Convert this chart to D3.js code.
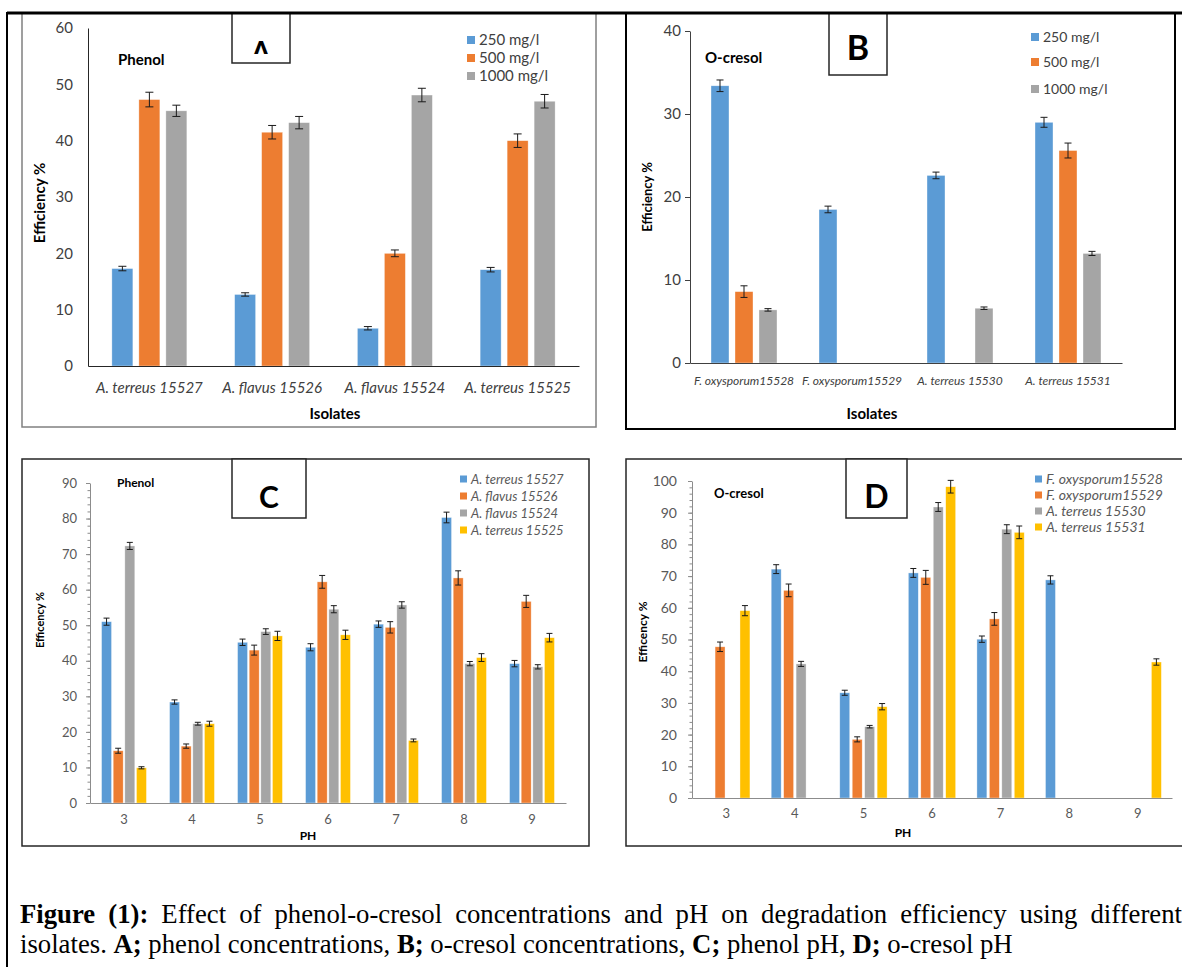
<!DOCTYPE html>
<html><head><meta charset="utf-8">
<script src="https://cdn.jsdelivr.net/npm/d3@7"></script>
<style>body{margin:0;background:#fff;} svg{display:block;font-family:Lato,"Open Sans",sans-serif;}
.cap text{font-family:"Liberation Serif","Times New Roman",Times,serif;}</style>
</head><body><svg id="c" width="1182" height="967"></svg>
<script>
// ---------------- data ----------------
const isolatesPhenol = ["A. terreus 15527", "A. flavus 15526", "A. flavus 15524", "A. terreus 15525"];
const isolatesCresol = ["F. oxysporum15528", "F. oxysporum15529", "A. terreus 15530", "A. terreus 15531"];
const concLabels = ["250 mg/l", "500 mg/l", "1000 mg/l"];

const phenolConc250 = [17.3, 12.7, 6.7, 17.1];
const phenolConc500 = [47.3, 41.5, 20.0, 40.0];
const phenolConc1000 = [45.3, 43.2, 48.1, 47.0];
const phenolConc250Err = [0.4, 0.3, 0.3, 0.4];
const phenolConc500Err = [1.3, 1.2, 0.6, 1.2];
const phenolConc1000Err = [1.0, 1.1, 1.2, 1.2];

const cresolConc250 = [33.4, 18.5, 22.6, 29.0];
const cresolConc500 = [8.6, 0, 0, 25.6];
const cresolConc1000 = [6.4, 0, 6.6, 13.2];
const cresolConc250Err = [0.7, 0.4, 0.4, 0.6];
const cresolConc500Err = [0.7, 0, 0, 0.9];
const cresolConc1000Err = [0.15, 0, 0.15, 0.25];

const phValues = ["3", "4", "5", "6", "7", "8", "9"];

const phenolPH15527 = [51.0, 28.4, 45.2, 43.8, 50.3, 80.3, 39.2];
const phenolPH15526 = [14.7, 16.0, 43.0, 62.2, 49.4, 63.3, 56.7];
const phenolPH15524 = [72.3, 22.3, 48.2, 54.5, 55.7, 39.2, 38.3];
const phenolPH15525 = [9.9, 22.3, 47.0, 47.3, 17.6, 40.9, 46.5];
const phenolPH15527Err = [1.0, 0.6, 0.9, 1.0, 0.9, 1.5, 0.9];
const phenolPH15526Err = [0.7, 0.6, 1.4, 1.8, 1.6, 2.0, 1.7];
const phenolPH15524Err = [1.0, 0.4, 0.8, 1.0, 0.9, 0.6, 0.6];
const phenolPH15525Err = [0.3, 0.7, 1.3, 1.3, 0.4, 1.1, 1.2];

const cresolPH15528 = [0, 72.2, 33.2, 71.0, 50.1, 68.8, 0];
const cresolPH15529 = [47.7, 65.5, 18.5, 69.6, 56.5, 0, 0];
const cresolPH15530 = [0, 42.3, 22.5, 91.8, 84.8, 0, 0];
const cresolPH15531 = [59.1, 0, 28.8, 98.2, 83.8, 0, 42.9];
const cresolPH15528Err = [0, 1.4, 0.8, 1.4, 1.0, 1.3, 0];
const cresolPH15529Err = [1.5, 2.0, 0.8, 2.2, 2.0, 0, 0];
const cresolPH15530Err = [0, 0.8, 0.4, 1.4, 1.4, 0, 0];
const cresolPH15531Err = [1.6, 0, 1.0, 2.0, 2.0, 0, 1.0];

const ticksA = [0, 10, 20, 30, 40, 50, 60];
const ticksB = [0, 10, 20, 30, 40];
const ticksC = [0, 10, 20, 30, 40, 50, 60, 70, 80, 90];
const ticksD = [0, 10, 20, 30, 40, 50, 60, 70, 80, 90, 100];

const seriesColors = ["#5B9BD5", "#ED7D31", "#A5A5A5", "#FFC000"];

// ---------------- drawing ----------------
const svg = d3.select("#c");
const FONT = "Lato, 'Open Sans', sans-serif";

function drawPanel(cfg) {
  const g = svg.append("g");
  g.append("rect").attr("x", cfg.frame[0]).attr("y", cfg.frame[1])
    .attr("width", cfg.frame[2]).attr("height", cfg.frame[3])
    .attr("fill", "#fff").attr("stroke", cfg.frameColor).attr("stroke-width", cfg.frameWidth);

  const y = d3.scaleLinear().domain([0, d3.max(cfg.yTicks)]).range([cfg.bottom, cfg.top]);
  const x0 = d3.scaleBand().domain(cfg.cats).range([cfg.left, cfg.right])
    .paddingInner(cfg.groupPad).paddingOuter(cfg.groupPad / 2);
  const x1 = d3.scaleBand().domain(d3.range(cfg.series.length)).range([0, x0.bandwidth()])
    .paddingInner(cfg.barPad);

  if (cfg.minorStep) {
    const minor = d3.range(0, d3.max(cfg.yTicks) + 0.001, cfg.minorStep);
    g.append("g").attr("transform", `translate(${cfg.left},0)`)
      .call(d3.axisLeft(y).tickValues(minor).tickSize(2.5).tickFormat(""))
      .call(s => s.select(".domain").remove())
      .call(s => s.selectAll("line").attr("stroke", cfg.axisColor));
  }
  const ya = g.append("g").attr("transform", `translate(${cfg.left},0)`)
    .call(d3.axisLeft(y).tickValues(cfg.yTicks).tickSize(cfg.yTickSize).tickSizeOuter(0).tickPadding(cfg.yTickPad));
  ya.select(".domain").attr("stroke", cfg.axisColor);
  ya.selectAll("line").attr("stroke", cfg.axisColor);
  ya.selectAll("text").attr("font-family", FONT).attr("font-size", cfg.yFont).attr("fill", cfg.textColor);

  cfg.series.forEach((vals, s) => {
    g.append("g").selectAll("rect").data(vals.map((v, i) => ({ v, c: cfg.cats[i] })).filter(d => d.v > 0))
      .join("rect")
      .attr("x", d => x0(d.c) + x1(s))
      .attr("y", d => y(d.v))
      .attr("width", x1.bandwidth())
      .attr("height", d => y(0) - y(d.v))
      .attr("fill", seriesColors[s])
      .attr("stroke", "#ffffff").attr("stroke-opacity", 0.6).attr("stroke-width", 0.6);
  });
  cfg.series.forEach((vals, s) => {
    const errs = cfg.errors[s];
    const eb = g.append("g").attr("stroke", "#1a1a1a").attr("stroke-width", 1);
    vals.forEach((v, i) => {
      if (v <= 0 || !errs[i]) return;
      const cx = x0(cfg.cats[i]) + x1(s) + x1.bandwidth() / 2;
      const y1 = y(v + errs[i]), y2 = y(v - errs[i]);
      eb.append("line").attr("x1", cx).attr("x2", cx).attr("y1", y1).attr("y2", y2);
      eb.append("line").attr("x1", cx - cfg.cap).attr("x2", cx + cfg.cap).attr("y1", y1).attr("y2", y1);
      eb.append("line").attr("x1", cx - cfg.cap).attr("x2", cx + cfg.cap).attr("y1", y2).attr("y2", y2);
    });
  });

  const xa = g.append("g").attr("transform", `translate(0,${cfg.bottom})`)
    .call(d3.axisBottom(x0).tickSize(0).tickSizeOuter(0).tickPadding(cfg.xTickPad));
  xa.select(".domain").attr("stroke", cfg.axisColor);
  xa.selectAll("text").attr("font-family", FONT).attr("font-size", cfg.xFont).attr("fill", cfg.textColor)
    .style("font-style", cfg.xItalic ? "italic" : "normal");

  g.append("text").attr("transform", `translate(${cfg.yTitlePos[0]},${cfg.yTitlePos[1]}) rotate(-90)`)
    .attr("text-anchor", "middle").attr("dy", "0.35em").attr("font-family", FONT).attr("font-weight", 700)
    .attr("font-size", cfg.yTitleFont).attr("fill", "#000").text(cfg.yTitle);
  g.append("text").attr("x", cfg.xTitlePos[0]).attr("y", cfg.xTitlePos[1]).attr("dy", "0.35em")
    .attr("text-anchor", "middle").attr("font-family", FONT).attr("font-weight", 700)
    .attr("font-size", cfg.xTitleFont).attr("fill", "#000").text(cfg.xTitle);

  g.append("text").attr("x", cfg.subPos[0]).attr("y", cfg.subPos[1]).attr("dy", "0.35em")
    .attr("font-family", FONT).attr("font-weight", 700).attr("font-size", cfg.subFont)
    .attr("fill", "#000").text(cfg.subtitle);

  cfg.legendNames.forEach((name, i) => {
    const ly = cfg.legendY[i];
    g.append("rect").attr("x", cfg.legendX).attr("y", ly - cfg.legendSq / 2)
      .attr("width", cfg.legendSq).attr("height", cfg.legendSq).attr("fill", seriesColors[i]);
    g.append("text").attr("x", cfg.legendX + cfg.legendSq + 4).attr("y", ly).attr("dy", "0.35em")
      .attr("font-family", FONT).attr("font-size", cfg.legendFont).attr("fill", cfg.textColor)
      .style("font-style", cfg.legendItalic ? "italic" : "normal").text(name);
  });

  const b = cfg.box;
  const clipId = "clip" + cfg.letter;
  svg.append("clipPath").attr("id", clipId).append("rect")
    .attr("x", b[0]).attr("y", b[1]).attr("width", b[2]).attr("height", cfg.letterClipH || b[3]);
  g.append("rect").attr("x", b[0]).attr("y", b[1]).attr("width", b[2]).attr("height", b[3])
    .attr("fill", "#fff").attr("stroke", "#262626").attr("stroke-width", 1.5);
  g.append("text").attr("x", b[0] + b[2] / 2).attr("y", cfg.letterBase).attr("text-anchor", "middle")
    .attr("font-family", FONT).attr("font-weight", 700).attr("font-size", cfg.letterFont)
    .attr("fill", "#000").attr("clip-path", `url(#${clipId})`).text(cfg.letter);
}

// Panel A
drawPanel({
  frame: [22, 13, 574, 414], frameColor: "#808080", frameWidth: 1.5,
  left: 88, right: 579, bottom: 366, top: 28,
  cats: isolatesPhenol, yTicks: ticksA,
  series: [phenolConc250, phenolConc500, phenolConc1000],
  errors: [phenolConc250Err, phenolConc500Err, phenolConc1000Err],
  groupPad: 0.389, barPad: 0.222, cap: 4,
  yTickSize: 0, yTickPad: 15, yFont: 15, axisColor: "#262626", textColor: "#404040",
  xTickPad: 16, xFont: 15, xItalic: true,
  yTitle: "Efficiency %", yTitlePos: [40, 203], yTitleFont: 15,
  xTitle: "Isolates", xTitlePos: [335, 414], xTitleFont: 15,
  subtitle: "Phenol", subPos: [118, 60], subFont: 15,
  legendNames: concLabels, legendX: 467, legendY: [40, 58, 76], legendSq: 8, legendFont: 15, legendItalic: false,
  box: [232, 13, 58, 50], letter: "A", letterBase: 62, letterFont: 28, letterClipH: 41
});

// Panel B
drawPanel({
  frame: [626, 13, 549, 416], frameColor: "#000", frameWidth: 2,
  left: 690, right: 1122, bottom: 363, top: 31,
  cats: isolatesCresol, yTicks: ticksB,
  series: [cresolConc250, cresolConc500, cresolConc1000],
  errors: [cresolConc250Err, cresolConc500Err, cresolConc1000Err],
  groupPad: 0.389, barPad: 0.25, cap: 3.5,
  yTickSize: 5, yTickPad: 4, yFont: 15, axisColor: "#404040", textColor: "#404040",
  xTickPad: 13, xFont: 12, xItalic: true,
  yTitle: "Efficiency %", yTitlePos: [647, 197], yTitleFont: 13,
  xTitle: "Isolates", xTitlePos: [872, 414], xTitleFont: 15,
  subtitle: "O-cresol", subPos: [705, 58], subFont: 15,
  legendNames: concLabels, legendX: 1031, legendY: [37, 62, 89], legendSq: 8, legendFont: 14, legendItalic: false,
  box: [829, 13, 58, 62], letter: "B", letterBase: 60, letterFont: 34
});

// Panel C
drawPanel({
  frame: [22, 459, 567, 387], frameColor: "#262626", frameWidth: 1.5,
  left: 90, right: 566, bottom: 803, top: 483,
  cats: phValues, yTicks: ticksC, minorStep: 2,
  series: [phenolPH15527, phenolPH15526, phenolPH15524, phenolPH15525],
  errors: [phenolPH15527Err, phenolPH15526Err, phenolPH15524Err, phenolPH15525Err],
  groupPad: 0.34, barPad: 0.143, cap: 3,
  yTickSize: 4, yTickPad: 9, yFont: 13, axisColor: "#8c8c8c", textColor: "#595959",
  xTickPad: 12, xFont: 13, xItalic: false,
  yTitle: "Efficency %", yTitlePos: [40, 620], yTitleFont: 11,
  xTitle: "PH", xTitlePos: [308, 836], xTitleFont: 12,
  subtitle: "Phenol", subPos: [117, 483], subFont: 12,
  legendNames: isolatesPhenol, legendX: 460, legendY: [479, 496, 513, 530], legendSq: 7, legendFont: 13, legendItalic: true,
  box: [232, 459, 74, 59], letter: "C", letterBase: 508, letterFont: 30
});

// Panel D
drawPanel({
  frame: [626, 459, 600, 387], frameColor: "#262626", frameWidth: 1.5,
  left: 692, right: 1172, bottom: 798, top: 481,
  cats: phValues, yTicks: ticksD, minorStep: 2,
  series: [cresolPH15528, cresolPH15529, cresolPH15530, cresolPH15531],
  errors: [cresolPH15528Err, cresolPH15529Err, cresolPH15530Err, cresolPH15531Err],
  groupPad: 0.31, barPad: 0.2, cap: 3,
  yTickSize: 4, yTickPad: 11, yFont: 14, axisColor: "#8c8c8c", textColor: "#595959",
  xTickPad: 11, xFont: 13, xItalic: false,
  yTitle: "Efficency %", yTitlePos: [643, 632], yTitleFont: 12,
  xTitle: "PH", xTitlePos: [903, 833], xTitleFont: 12,
  subtitle: "O-cresol", subPos: [714, 493], subFont: 13,
  legendNames: isolatesCresol, legendX: 1035, legendY: [479, 495, 511, 527], legendSq: 7, legendFont: 14, legendItalic: true,
  box: [846, 459, 61, 59], letter: "D", letterBase: 508, letterFont: 32
});

// outer table lines
svg.append("line").attr("x1", 7).attr("x2", 1182).attr("y1", 13).attr("y2", 13).attr("stroke", "#000").attr("stroke-width", 3);
svg.append("line").attr("x1", 7).attr("x2", 7).attr("y1", 12).attr("y2", 967).attr("stroke", "#000").attr("stroke-width", 2);

// caption
const cap = svg.append("g").attr("class", "cap").attr("font-size", 28).attr("fill", "#000");
const line1 = cap.append("text").attr("y", 923);
line1.append("tspan").attr("font-weight", 700).text("Figure (1):");
line1.append("tspan").text(" Effect of phenol-o-cresol concentrations and pH on degradation efficiency using different");
const line2 = cap.append("text").attr("y", 953);
[["isolates. ", 0], ["A;", 1], [" phenol concentrations, ", 0], ["B;", 1], [" o-cresol concentrations, ", 0],
 ["C;", 1], [" phenol pH, ", 0], ["D;", 1], [" o-cresol pH", 0]].forEach(([t, b]) => {
  line2.append("tspan").attr("font-weight", b ? 700 : 400).text(t);
});
const w2 = line2.node().getComputedTextLength();
const sx = 993 / w2;
cap.attr("transform", `translate(20,0) scale(${sx},1)`);
const w1 = line1.node().getComputedTextLength();
const spaces1 = (line1.text().match(/ /g) || []).length;
line1.style("word-spacing", (((1162 / sx) - w1) / spaces1) + "px");
</script></body></html>
